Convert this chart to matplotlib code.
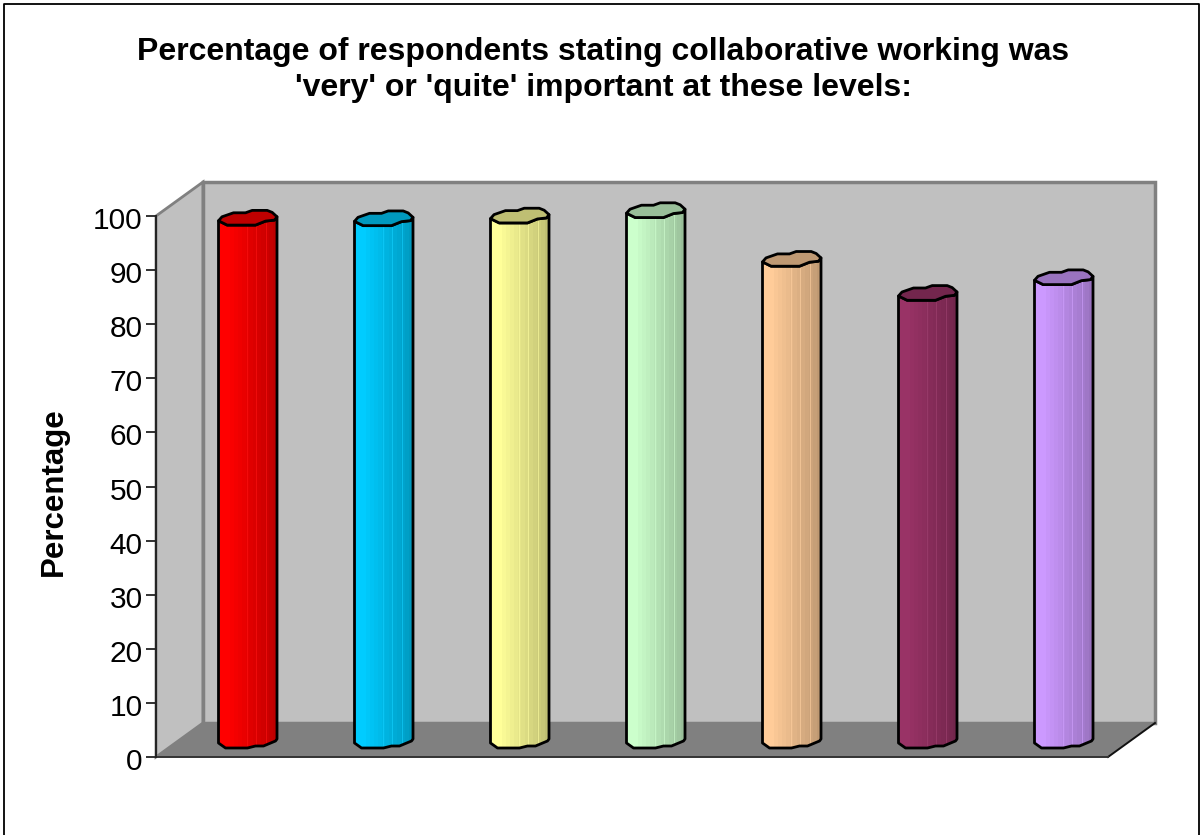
import matplotlib
matplotlib.use("Agg")
import matplotlib.pyplot as plt
import numpy as np
from matplotlib.colors import ListedColormap, to_rgb
from matplotlib.patches import Polygon
from matplotlib.transforms import ScaledTranslation

plt.rcParams["font.family"] = ["Liberation Sans", "DejaVu Sans"]

W, H = 1201, 835

title_lines = ["Percentage of respondents stating collaborative working was",
               "'very' or 'quite' important at these levels:"]
y_label = "Percentage"
y_ticks = list(range(0, 101, 10))

# one value per cylinder, no category names on the axis
values = [96.6, 96.5, 97.0, 98.0, 89.0, 82.7, 85.6]
colors = ["#ff0000", "#00ccff", "#ffff99", "#ccffcc", "#ffcc99", "#993366", "#cc99ff"]

# axes box in pixels, and the depth shift of the back wall
left, right, bottom, top = 156, 1108, 757, 216
depth_x, depth_y = 47, 34

fig = plt.figure(figsize=(W / 100, H / 100), dpi=100, facecolor="white")
ax = fig.add_axes([left / W, 1 - bottom / H, (right - left) / W, (bottom - top) / H])
ax.set_xlim(0, len(values))
ax.set_ylim(0, 100)
ax.patch.set_visible(False)

px_x = len(values) / (right - left)
px_y = 100 / (bottom - top)


def shift(points):
    # pixel offsets (right, up) -> data units
    return [(x * px_x, y * px_y) for x, y in points]


n = len(values)
dx = depth_x * px_x
dy = depth_y * px_y

# walls and floor
ax.add_patch(Polygon([(0, 0), (dx, dy), (dx, 100 + dy), (0, 100)], closed=True, clip_on=False,
                     fc="#c0c0c0", ec="#808080", lw=2, zorder=1))
ax.add_patch(Polygon([(dx, dy), (n + dx, dy), (n + dx, 100 + dy), (dx, 100 + dy)], closed=True,
                     clip_on=False, fc="#c0c0c0", ec="#808080", lw=2.5, zorder=1))
ax.add_patch(Polygon([(0, 0), (n, 0), (n + dx, dy), (dx, dy)], closed=True, clip_on=False,
                     fc="#808080", ec="none", zorder=2))
ax.plot([n, n + dx], [0, dy], color="#111111", lw=1.4, clip_on=False, zorder=3)
ax.plot([0, n], [0, 0], color="#333333", lw=1.4, clip_on=False, zorder=3)

# outline of a cylinder end, offsets from its centre in pixels
upper_edge = [(-29, -3.4), (-25.5, 0.6), (-14, 4.6), (-2, 4.6), (4.7, 7), (19.7, 7), (24.7, 5), (29.5, 0.6)]
top_lower = [(29.5, 0.6), (27, -2.7), (18, -3.7), (8, -7.7), (-20.3, -7.7), (-29, -3.4)]
base_lower = [(29.5, 1), (28, -1), (16, -6), (8, -6), (0, -8), (-22, -8), (-29, -3)]

mid_x = depth_x / 2 * px_x
mid_y = depth_y / 2 * px_y
shades = np.array([1, 1, 1, 0.98, 0.96, 0.94, 0.92, 0.9, 0.88, 0.86, 0.84, 0.82, 0.8, 0.78, 0.75])
seams = [-1, 8, 18]

for i, (val, col) in enumerate(zip(values, colors)):
    cx = i + 0.5 + mid_x
    y0 = mid_y
    y1 = val + mid_y
    rgb = np.array(to_rgb(col))

    base = [(cx + a, y0 + b) for a, b in shift(base_lower)]
    cap_low = [(cx + a, y1 + b) for a, b in shift(top_lower)]
    cap_up = [(cx + a, y1 + b) for a, b in shift(upper_edge)]

    # front of the cylinder: stepped shading clipped to the outline
    body = base + cap_low[::-1]
    clip = Polygon(body, closed=True, transform=ax.transData, fc="none", ec="none", clip_on=False)
    ax.add_patch(clip)
    strip = ListedColormap([tuple(rgb * s) for s in shades])
    img = ax.imshow(np.arange(len(shades))[None, :], cmap=strip, aspect="auto", zorder=4,
                    extent=[cx - 29.5 * px_x, cx + 29.5 * px_x, 0, 110], interpolation="nearest")
    img.set_clip_box(fig.bbox)
    img.set_clip_path(clip)
    for s in seams:
        sx = cx + s * px_x
        ax.plot([sx, sx], [y0 - 1, y1 - 1], color=tuple(np.minimum(rgb * 0.92 + 0.08, 1)),
                lw=0.7, alpha=0.6, zorder=4.5, clip_on=False)
    ax.add_patch(Polygon(body, closed=True, fc="none", ec="black", lw=2, zorder=5,
                         joinstyle="round", clip_on=False))

    # top face
    ax.add_patch(Polygon(cap_up + cap_low[1:], closed=True, fc=tuple(rgb * 0.75), ec="black",
                         lw=2, zorder=6, joinstyle="round", clip_on=False))

ax.set_xlim(0, n)
ax.set_ylim(0, 100)

for side in ["top", "right", "bottom"]:
    ax.spines[side].set_visible(False)
ax.spines["left"].set_color("#222222")
ax.spines["left"].set_linewidth(1.4)
ax.spines["left"].set_zorder(3)
ax.set_xticks([])
ax.set_yticks(y_ticks)
ax.tick_params(axis="y", length=7, width=1.3, color="#222222", labelsize=21.5, pad=2.5)
# numbers sit slightly below their ticks
nudge = ScaledTranslation(0, -2 / 100, fig.dpi_scale_trans)
for lab in ax.get_yticklabels():
    lab.set_transform(lab.get_transform() + nudge)
ax.set_ylabel(y_label, fontsize=22.5, fontweight="bold", va="center", ha="center")
ax.yaxis.set_label_coords((54 - left) / (right - left), (bottom - 492) / (bottom - top))

fig.text(603 / W, 1 - 60 / H, title_lines[0], ha="center", va="baseline", fontsize=23, fontweight="bold")
fig.text(603 / W, 1 - 96 / H, title_lines[1], ha="center", va="baseline", fontsize=23, fontweight="bold")

# chart frame
frame = fig.add_axes([0, 0, 1, 1], zorder=-1)
frame.set_xlim(0, W)
frame.set_ylim(H, 0)
frame.axis("off")
frame.plot([4, 4, 1199, 1199], [H, 4, 4, H], color="black", lw=1.3)

fig.savefig("out.png", dpi=100)
